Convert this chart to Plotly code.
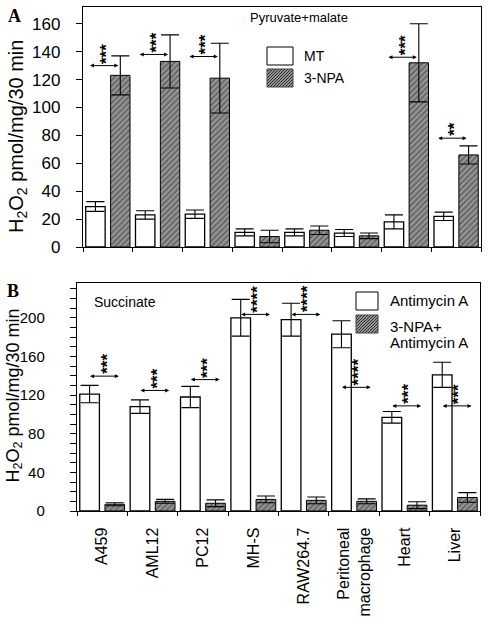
import plotly.graph_objects as go

# ---------------- data ----------------
categories = ["A459", "AML12", "PC12", "MH-S", "RAW264.7",
              "Peritoneal<br>macrophage", "Heart", "Liver"]

# Panel A: Pyruvate+malate
pm_mt = [29, 23, 23.5, 10.5, 10.5, 10, 18, 22]
pm_mt_err = [3.5, 3, 3, 2.5, 2.5, 2.5, 5, 3]
pm_npa = [123, 133, 121, 7.5, 12, 8, 132, 66]
pm_npa_err = [14, 19, 25, 4.5, 3, 2, 28, 6.5]
pm_sig_groups = [0, 1, 2, 6, 7]
pm_sig_stars = ["***", "***", "***", "***", "**"]
pm_sig_y = [130, 138, 136.5, 136, 78]

# Panel B: Succinate
suc_aa = [121, 108, 118, 200, 198, 183, 97, 141]
suc_aa_err = [9, 7, 11, 19, 17, 14, 6, 13]
suc_npa = [7, 10, 8, 12, 11, 10, 6, 14]
suc_npa_err = [1.5, 2, 3.5, 3.5, 3.5, 2.5, 3.5, 5]
suc_sig_groups = [0, 1, 2, 3, 4, 5, 6, 7]
suc_sig_stars = ["***", "***", "***", "****", "****", "****", "***", "***"]
suc_sig_y = [139.6, 124.8, 136, 203.5, 203.5, 128, 108.8, 108.8]

# ---------------- styling ----------------
W, H = 488, 628
FONT = "Liberation Sans"
HATCH_BG = "#969696"
HATCH_FG = "#2a2a2a"
hatch = dict(shape="/", fgcolor=HATCH_FG, bgcolor=HATCH_BG, size=4, solidity=0.4)
open_marker = dict(color="white", line=dict(color="black", width=1.3))
hatch_marker = dict(color=HATCH_BG, pattern=hatch, line=dict(color="black", width=1))


def err(arr):
    return dict(type="data", array=arr, color="black", thickness=1.1, width=9)


fig = go.Figure()
fig.add_trace(go.Bar(x=categories, y=pm_mt, error_y=err(pm_mt_err), marker=open_marker,
                     xaxis="x", yaxis="y", name="MT"))
fig.add_trace(go.Bar(x=categories, y=pm_npa, error_y=err(pm_npa_err), marker=hatch_marker,
                     xaxis="x", yaxis="y", name="3-NPA"))
fig.add_trace(go.Bar(x=categories, y=suc_aa, error_y=err(suc_aa_err), marker=open_marker,
                     xaxis="x2", yaxis="y2", name="Antimycin A"))
fig.add_trace(go.Bar(x=categories, y=suc_npa, error_y=err(suc_npa_err), marker=hatch_marker,
                     xaxis="x2", yaxis="y2", name="3-NPA+Antimycin A"))


def px_x(p):
    return p / W


def px_y(p):
    return 1 - p / H


axis_common = dict(showline=True, mirror=True, linecolor="black", linewidth=1.2,
                   showgrid=False, zeroline=False, ticks="outside", tickcolor="black",
                   tickwidth=1, automargin=False)

fig.update_layout(
    width=W, height=H, margin=dict(l=0, r=0, t=0, b=0, autoexpand=False),
    paper_bgcolor="white", plot_bgcolor="white", showlegend=False,
    barmode="group", bargap=0.0, bargroupgap=0.22,
    font=dict(family=FONT, color="black"),
    xaxis=dict(domain=[px_x(83), px_x(481)], anchor="y", type="category",
               range=[-0.5, 7.5], tickson="boundaries", ticklen=4,
               showticklabels=False, **axis_common),
    yaxis=dict(domain=[px_y(247), px_y(7)], anchor="x", range=[0, 172],
               tick0=0, dtick=20, ticklen=6, tickfont=dict(size=17),
               ticklabelstandoff=12, **axis_common),
    xaxis2=dict(domain=[px_x(77), px_x(480)], anchor="y2", type="category",
                range=[-0.5, 7.5], tickson="boundaries", ticklen=4,
                tickangle=-90, tickfont=dict(size=16), ticklabelstandoff=9,
                **axis_common),
    yaxis2=dict(domain=[px_y(511), px_y(283)], anchor="x2", range=[0, 236],
                tick0=0, dtick=40, ticklen=6, tickfont=dict(size=15),
                ticklabelstandoff=22,
                minor=dict(dtick=10, ticks="outside", ticklen=6, tickcolor="black"),
                **axis_common),
)

ann = []
shapes = []


# significance arrows + stars
def add_sig(groups, stars, ys, xref, yref, left, right):
    for g, s, y in zip(groups, stars, ys):
        ann.append(dict(x=g + right, y=y, ax=g + left, ay=y, xref=xref, yref=yref,
                        axref=xref, ayref=yref, text="", showarrow=True,
                        arrowhead=2, startarrowhead=2, arrowside="end+start",
                        arrowsize=0.8, startarrowsize=0.8, arrowwidth=1,
                        arrowcolor="black", standoff=0, startstandoff=0))
        ann.append(dict(x=g + (left + right) / 2, y=y, xref=xref, yref=yref,
                        text="<b>%s</b>" % s, showarrow=False, textangle=-90,
                        yanchor="bottom", xanchor="center", yshift=0, xshift=3,
                        font=dict(family=FONT, size=17, color="black")))


add_sig(pm_sig_groups, pm_sig_stars, pm_sig_y, "x", "y", -0.39, 0.21)
add_sig(suc_sig_groups, suc_sig_stars, suc_sig_y, "x2", "y2", -0.27, 0.33)

# y-axis titles
ytitle = "H<sub>2</sub>O<sub>2</sub> pmol/mg/30 min"
ann.append(dict(x=px_x(17), y=px_y(137), xref="paper", yref="paper", text=ytitle,
                xanchor="center", yanchor="middle",
                showarrow=False, textangle=-90, font=dict(size=20)))
ann.append(dict(x=px_x(13.5), y=px_y(396), xref="paper", yref="paper", text=ytitle,
                xanchor="center", yanchor="middle",
                showarrow=False, textangle=-90, font=dict(size=18)))

# panel letters
for letter, cx, cy in [("A", 14, 16), ("B", 13, 291)]:
    ann.append(dict(x=px_x(cx), y=px_y(cy), xref="paper", yref="paper",
                    xanchor="center", yanchor="middle",
                    text="<b>%s</b>" % letter, showarrow=False,
                    font=dict(family="Liberation Serif", size=18)))

# panel captions
ann.append(dict(x=px_x(248), y=px_y(18), xref="paper", yref="paper", xanchor="left",
                yanchor="middle",
                text="Pyruvate+malate", showarrow=False, font=dict(size=13)))
ann.append(dict(x=px_x(92), y=px_y(302), xref="paper", yref="paper", xanchor="left",
                yanchor="middle",
                text="Succinate", showarrow=False, font=dict(size=14)))


# legend boxes
def hatch_path(x0, y0, x1, y1, step=3.0):
    parts = []
    c = x0 + y0 + step
    while c < x1 + y1:
        xa = max(x0, c - y1)
        xb = min(x1, c - y0)
        if xb > xa:
            parts.append("M%.5f,%.5f L%.5f,%.5f" % (px_x(xa), px_y(c - xa),
                                                    px_x(xb), px_y(c - xb)))
        c += step
    return " ".join(parts)


def legend_box(x0, y0, x1, y1, hatched):
    if hatched:
        shapes.append(dict(type="rect", xref="paper", yref="paper",
                           x0=px_x(x0), x1=px_x(x1), y0=px_y(y1), y1=px_y(y0),
                           fillcolor=HATCH_BG, line=dict(width=0)))
        shapes.append(dict(type="path", xref="paper", yref="paper",
                           path=hatch_path(x0, y0, x1, y1),
                           line=dict(color=HATCH_FG, width=1)))
    shapes.append(dict(type="rect", xref="paper", yref="paper",
                       x0=px_x(x0), x1=px_x(x1), y0=px_y(y1), y1=px_y(y0),
                       fillcolor="rgba(0,0,0,0)" if hatched else "white",
                       line=dict(color="#444444" if hatched else "black", width=1)))


legend_box(267, 47, 293, 65, False)
legend_box(267, 69, 293, 87, True)
legend_box(356, 292, 378, 310, False)
legend_box(356, 315, 378, 333, True)

for txt, lx, ly, sz in [("MT", 302, 56, 14), ("3-NPA", 302, 78, 14),
                        ("Antimycin A", 388, 301, 15), ("3-NPA+", 388, 326, 15),
                        ("Antimycin A", 388, 342, 15)]:
    ann.append(dict(x=px_x(lx), y=px_y(ly), xref="paper", yref="paper",
                    xanchor="left", yanchor="middle", text=txt, showarrow=False,
                    font=dict(size=sz)))

fig.update_layout(annotations=ann, shapes=shapes)
fig.write_html("out.html", config={"displayModeBar": False, "staticPlot": True},
               post_script="document.body.style.margin='0';"
                           "document.body.style.overflow='hidden';")
